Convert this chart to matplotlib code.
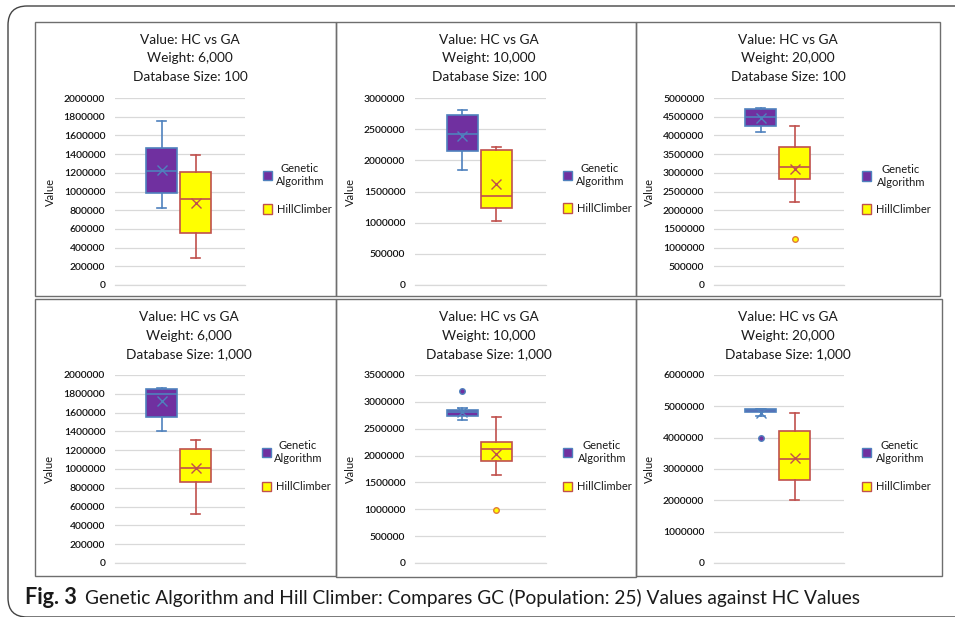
import matplotlib
matplotlib.use("Agg")
import matplotlib.pyplot as plt
from matplotlib.patches import Rectangle, FancyBboxPatch
import numpy as np

# ---------------- data ----------------
weights = ["6,000", "10,000", "20,000", "6,000", "10,000", "20,000"]
db_sizes = ["100", "100", "100", "1,000", "1,000", "1,000"]
y_max = [2000000, 3000000, 5000000, 2000000, 3500000, 6000000]
y_step = [200000, 500000, 500000, 200000, 500000, 1000000]
series_names = ["Genetic\nAlgorithm", "HillClimber"]

ga_whislo = [821000, 1843000, 4080000, 1403000, 2667000, 4700000]
ga_q1 = [989000, 2154000, 4250000, 1549000, 2729000, 4817000]
ga_med = [1214000, 2421000, 4482000, 1801000, 2810000, 4870000]
ga_mean = [1225000, 2395000, 4464000, 1723000, 2804000, 4774000]
ga_q3 = [1460000, 2721000, 4714000, 1847000, 2854000, 4902000]
ga_whishi = [1757000, 2812000, 4741000, 1858000, 2878000, 4913000]
ga_outliers = [[], [], [], [], [3202000], [3996000]]

hc_whislo = [286000, 1029000, 2223000, 522000, 1635000, 2025000]
hc_q1 = [553000, 1232000, 2830000, 863000, 1896000, 2664000]
hc_med = [921000, 1425000, 3161000, 1009000, 2114000, 3304000]
hc_mean = [878000, 1618000, 3098000, 1009000, 2027000, 3336000]
hc_q3 = [1207000, 2170000, 3679000, 1208000, 2244000, 4210000]
hc_whishi = [1389000, 2207000, 4259000, 1311000, 2723000, 4774000]
hc_outliers = [[], [], [1241000], [], [982000], []]

caption_bold = "Fig. 3"
caption_rest = "Genetic Algorithm and Hill Climber: Compares GC (Population: 25) Values against HC Values"

# ---------------- style ----------------
W, H = 955, 617
FONT = "Lato"
GA_FILL, GA_EDGE = "#7030A0", "#4F81BD"
HC_FILL, HC_EDGE = "#FFFF00", "#C0504D"
HC_OUT_EDGE = "#E07B39"
GRID = "#D9D9D9"
FRAME = "#6E6E6E"

plt.rcParams["font.family"] = [FONT, "DejaVu Sans"]

fig = plt.figure(figsize=(W / 100, H / 100), dpi=100)


def fx(x):
    return x / W


def fy(y):
    return 1 - y / H


# outer rounded frame
outer = FancyBboxPatch((fx(8), fy(617)), fx(1100) - fx(8), fy(6) - fy(617),
                       boxstyle="round,pad=0,rounding_size=0.02",
                       transform=fig.transFigure, fill=False,
                       edgecolor="#444444", linewidth=1.0, mutation_aspect=W / H)
fig.patches.append(outer)

# panel frames (pixel coords)
frames = [(35, 22, 336, 296), (336, 22, 636, 296), (636, 22, 940, 296),
          (35, 299, 336, 576), (336, 299, 636, 577), (636, 299, 942, 576)]
for (x0, y0, x1, y1) in frames:
    fig.patches.append(Rectangle((fx(x0), fy(y1)), fx(x1) - fx(x0), fy(y0) - fy(y1),
                                 transform=fig.transFigure, fill=False,
                                 edgecolor=FRAME, linewidth=1.0))

plot_x = [(115, 245), (415, 546), (714, 844)] * 2
plot_y = [(98, 285)] * 3 + [(375, 563)] * 3
title_cx = [190, 489, 788, 189, 489, 788]
title_y = [(40, 58, 77)] * 3 + [(317, 336, 354)] * 3
ylabel_x = [50, 350, 649, 49, 350, 649]
leg_sq_x = [263, 563, 862, 262, 563, 862]
leg_txt_cx = [300, 600, 901, 298, 602, 900]
leg_ga_y = [175, 175, 176, 452, 452, 452]
leg_hc_y = [209, 208, 209, 486, 486, 486]

for i in range(6):
    x0, x1 = plot_x[i]
    y0, y1 = plot_y[i]
    ax = fig.add_axes([fx(x0), fy(y1), fx(x1) - fx(x0), fy(y0) - fy(y1)])
    stats = [
        dict(whislo=ga_whislo[i], q1=ga_q1[i], med=ga_med[i], mean=ga_mean[i],
             q3=ga_q3[i], whishi=ga_whishi[i], fliers=ga_outliers[i]),
        dict(whislo=hc_whislo[i], q1=hc_q1[i], med=hc_med[i], mean=hc_mean[i],
             q3=hc_q3[i], whishi=hc_whishi[i], fliers=hc_outliers[i]),
    ]
    fills = [GA_FILL, HC_FILL]
    edges = [GA_EDGE, HC_EDGE]
    out_edges = [GA_EDGE, HC_OUT_EDGE]
    for k in range(2):
        ax.bxp([stats[k]], positions=[[0.36, 0.62][k]], widths=0.238,
               capwidths=0.07, patch_artist=True, showmeans=True,
               boxprops=dict(facecolor=fills[k], edgecolor=edges[k], linewidth=1.2),
               medianprops=dict(color=edges[k], linewidth=1.2),
               whiskerprops=dict(color=edges[k], linewidth=1.2),
               capprops=dict(color=edges[k], linewidth=1.2),
               meanprops=dict(marker="x", markeredgecolor=edges[k],
                              markersize=7, markeredgewidth=1.0),
               flierprops=dict(marker="o", markerfacecolor=fills[k],
                               markeredgecolor=out_edges[k], markersize=4,
                               markeredgewidth=1.0),
               zorder=3)
    ax.set_xlim(0, 1)
    ax.set_ylim(0, y_max[i])
    ticks = np.arange(0, y_max[i] + 1, y_step[i])
    ax.set_yticks(ticks)
    ax.set_yticklabels([str(int(t)) for t in ticks], fontsize=7.5,
                       color="#111111", fontweight="semibold")
    ax.set_xticks([])
    ax.tick_params(axis="y", length=0, pad=7)
    ax.grid(axis="y", color=GRID, linewidth=0.9, zorder=0)
    ax.set_axisbelow(True)
    for s in ["top", "right", "left"]:
        ax.spines[s].set_visible(False)
    ax.spines["bottom"].set_color(GRID)
    ax.spines["bottom"].set_linewidth(0.9)
    ax.set_facecolor("none")

    # titles
    lines = ["Value: HC vs GA", "Weight: " + weights[i], "Database Size: " + db_sizes[i]]
    for ln, yy in zip(lines, title_y[i]):
        fig.text(fx(title_cx[i]), fy(yy), ln, ha="center", va="center",
                 fontsize=9.8, color="#1a1a1a")
    fig.text(fx(ylabel_x[i]), fy((y0 + y1) / 2), "Value", rotation=90,
             ha="center", va="center", fontsize=8, color="#1a1a1a")

    # legend
    sq = 9
    for k, yy in enumerate([leg_ga_y[i], leg_hc_y[i]]):
        fig.patches.append(Rectangle((fx(leg_sq_x[i]), fy(yy + sq / 2)), sq / W, sq / H,
                                     transform=fig.transFigure, facecolor=fills[k],
                                     edgecolor=edges[k], linewidth=1.0))
    fig.text(fx(leg_txt_cx[i]), fy(leg_ga_y[i]), series_names[0], ha="center",
             va="center", fontsize=8, linespacing=1.3, color="#1a1a1a")
    fig.text(fx(leg_sq_x[i] + 14), fy(leg_hc_y[i]), series_names[1], ha="left",
             va="center", fontsize=8, color="#1a1a1a")

# caption
cap_fam = ["Liberation Sans Narrow", "Lato", "DejaVu Sans"]
r = fig.canvas.get_renderer()
tb = fig.text(fx(25), fy(598), caption_bold, ha="left", va="center",
              fontsize=13, fontweight="bold", color="#1a1a1a", family=cap_fam)
tr = fig.text(fx(85), fy(598), caption_rest, ha="left", va="center",
              fontsize=13, color="#1a1a1a", family=cap_fam)
wb = tb.get_window_extent(r).width
tb.set_fontsize(13 * 52 / wb)
wr = tr.get_window_extent(r).width
tr.set_fontsize(13 * 772 / wr)

fig.savefig("out.png", dpi=100)
